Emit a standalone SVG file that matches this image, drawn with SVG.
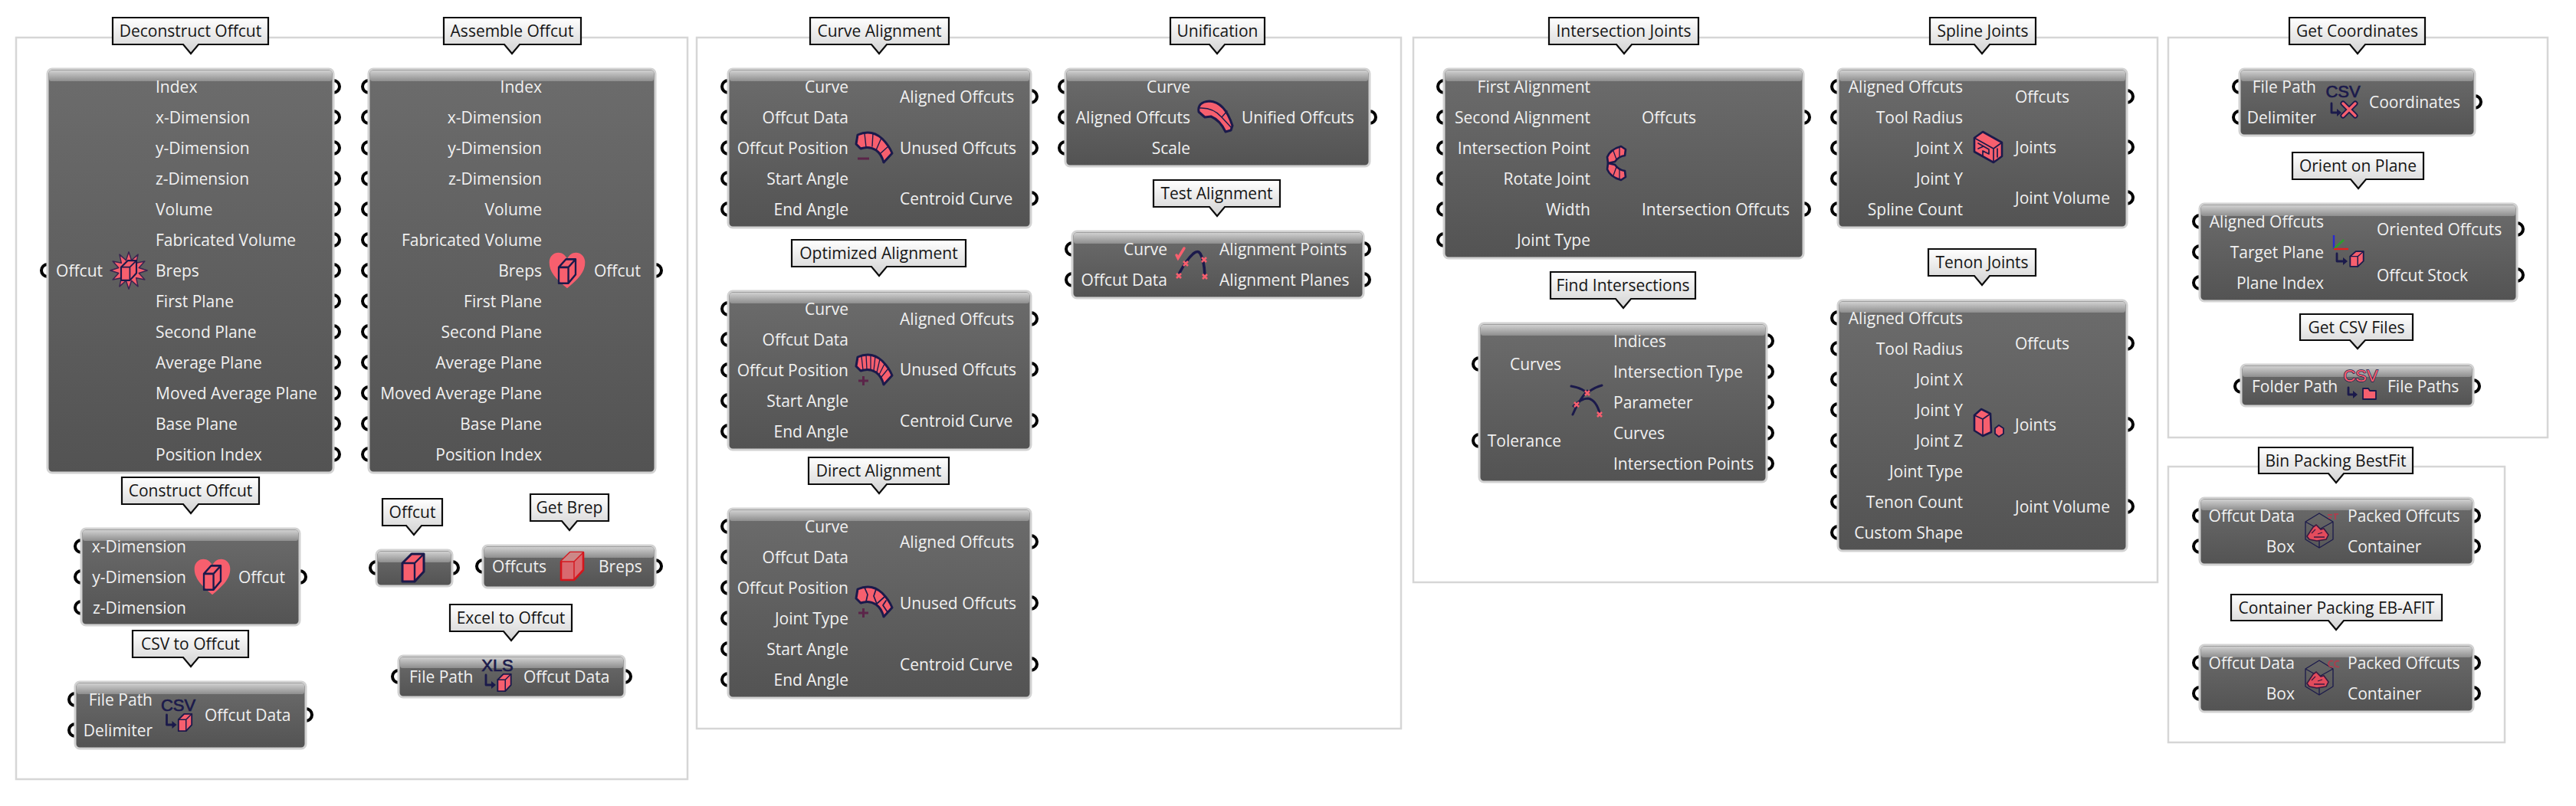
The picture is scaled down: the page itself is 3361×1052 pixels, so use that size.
<svg xmlns="http://www.w3.org/2000/svg" width="3361" height="1052" viewBox="0 0 3361 1052">
<style>
text{font-family:"Open Sans","Noto Sans","Liberation Sans",sans-serif;dominant-baseline:central}
.f{fill:none;stroke:#d6d6d6;stroke-width:2.5}
.c{fill:url(#gl);stroke:#0c0c0c;stroke-width:2.2;stroke-linejoin:miter}
.lb{font-size:21px;fill:#151515;text-anchor:middle}
.b{fill:url(#gb);stroke:#d2d2d2;stroke-width:3}
.h{fill:url(#gh)}
.t{font-size:21px;fill:#f1f1f1}
.r{text-anchor:end}
.i{fill:#f75f6e;stroke:#1b1a4b;stroke-linejoin:round;stroke-linecap:round}
.l{fill:none;stroke:#1b1a4b;stroke-linejoin:round;stroke-linecap:round}
.m{fill:none;stroke:#5b2549;stroke-width:3}
.x{fill:none;stroke:#f75f6e;stroke-width:2.6}
.ic{font-size:22px;fill:#1b1a4b;stroke:#1b1a4b;stroke-width:.7;text-anchor:middle;font-family:"Liberation Sans",sans-serif;dominant-baseline:auto}
</style>
<defs>
<linearGradient id="gl" x1="0" y1="0" x2="0" y2="1"><stop offset="0" stop-color="#ffffff"/><stop offset="1" stop-color="#d2d2d2"/></linearGradient>
<linearGradient id="gb" x1="0" y1="0" x2="0" y2="1"><stop offset="0" stop-color="#6c6c6c"/><stop offset="1" stop-color="#535353"/></linearGradient>
<linearGradient id="gh" x1="0" y1="0" x2="0" y2="1"><stop offset="0" stop-color="#d0d0d0"/><stop offset="1" stop-color="#8e8e8e"/></linearGradient>
<circle id="p" r="8" fill="none" stroke="#000" stroke-width="4"/>
<g id="cube"><path class="i" stroke-width="3" d="M-14,-6 L-2,-18 H14 V5 L2,18 H-14 Z"/><path class="l" stroke-width="2.4" d="M-14,-6 H2 V18 M2,-6 L14,-18"/></g>
<g id="burst"><g transform="scale(1.05)"><path fill="#f75f6e" stroke="#3a2450" stroke-width="1.4" stroke-linejoin="round" d="M23,0 L12.6,3.4 19.9,11.5 9.2,9.2 11.5,19.9 3.4,12.6 0,23 -3.4,12.6 -11.5,19.9 -9.2,9.2 -19.9,11.5 -12.6,3.4 -23,0 -12.6,-3.4 -19.9,-11.5 -9.2,-9.2 -11.5,-19.9 -3.4,-12.6 0,-23 3.4,-12.6 11.5,-19.9 9.2,-9.2 19.9,-11.5 12.6,-3.4 Z"/><use href="#cube" transform="scale(.68)"/></g></g>
<g id="heart"><g transform="scale(1.06)"><path fill="#f75f6e" d="M0,22 C-14,10 -22,2 -22,-10 C-22,-18 -16,-22 -11,-22 C-6,-22 -2,-19 0,-14 C2,-19 6,-22 11,-22 C16,-22 22,-18 22,-10 C22,2 14,10 0,22Z"/><g transform="translate(0,1) scale(.74,.82)"><path class="l" stroke-width="3" d="M-14,-6 L-2,-18 H14 V5 L2,18 H-14 Z M-14,-6 H2 V18 M2,-6 L14,-18"/></g></g></g>
<g id="brep"><path fill="#d9696f" stroke="#d4161d" stroke-width="2.6" stroke-linejoin="round" d="M-14,-6 L-2,-18 H15 V5 L3,18 H-14 Z"/><path fill="#c88" d="M-14,-6 L-2,-18 H15 L3,-6 Z"/><path fill="none" stroke="#d4161d" stroke-width="1.4" d="M-14,-6 H3 V18 M3,-6 L15,-18"/></g>
<g id="band"><path class="i" stroke-width="3" d="M-21,-17 Q-3,-25 11,-12 Q20,-3 24,7 L13,19 Q10,8 3,3 Q-6,-3 -17,1 L-23,-5 Z"/></g>
<g id="band1"><use href="#band"/><path class="l" stroke-width="1.4" d="M-12,-19 L-10,-1 M-1,-19 L-2,-2 M10,-13 L3,3 M19,-2 L9,7"/><path class="m" d="M-21,14 H-6"/></g>
<g id="band2"><use href="#band"/><path class="l" stroke-width="1.3" d="M-16,-18 L-14,0 M-10,-20 L-9,-1 M-4,-20 L-4,-1 M2,-18 L0,1 M8,-14 L4,3 M14,-8 L7,6 M19,-2 L10,9"/><path class="m" d="M-20,14 H-7 M-13.500,8 V20"/></g>
<g id="band3"><use href="#band"/><path class="l" stroke-width="1.7" d="M-12,-19 L-8,-10 L-10,-1 M3,-17 L0,-8 L4,2 L14,-7 M16,-2 L12,4 L18,13"/><path class="m" d="M-20,14 H-7 M-13.500,8 V20"/></g>
<g id="uni"><path class="i" stroke-width="3" d="M-22,-6 Q-24,-19 -8,-20 Q12,-19 22,12 L20,18 L13,20 Q6,5 -6,0 L-14,1 Z"/><path class="l" stroke-width="1.4" d="M-21,-11 Q-3,-12 8,1 L20,14 M8,1 L15,-7"/></g>
<g id="test"><path class="l" stroke-width="3.6" d="M-18,12 Q-9,-5 0,-13 Q6,-18 9,-13 Q14,-5 15,15"/><path class="x" d="M-22,13 L-16,19 M-16,13 L-22,19 M-13,-3 L-7,3 M-7,-3 L-13,3 M11,-8 L17,-2 M17,-8 L11,-2 M12,14 L18,20 M18,14 L12,20"/><path fill="none" stroke="#f75f6e" stroke-width="3.5" stroke-linecap="round" d="M-22,-11 L-20,-7 L-12,-20"/></g>
<g id="find"><path class="l" stroke-width="3" d="M-21,-20 Q-8,-18 0,-11 Q8,-18 19,-21 M0,-14 Q-12,0 -19,17 M-18,6 Q-8,-4 1,-4 Q12,-2 17,18"/><path class="x" d="M-3,-14 L3,-8 M3,-14 L-3,-8 M-17,1 L-11,7 M-11,1 L-17,7 M13,14 L19,20 M19,14 L13,20"/></g>
<g id="inter"><path class="i" stroke-width="2.6" d="M-11,0 L-12,-8 Q-8,-18 6,-22 L12,-18 L11,-10 Q3,-9 -2,-2 Z"/><path class="i" stroke-width="2.6" d="M-11,0 L-12,8 Q-8,18 6,22 L12,18 L11,10 Q3,9 -2,2 Z"/><path class="l" stroke-width="1.3" d="M-4,-16 L0,-5 M4,-20 L4,-9 M-4,16 L0,5 M4,20 L4,9"/></g>
<g id="spline"><path class="i" stroke-width="2.6" d="M-18,-12 L-7,-20 L18,-6 L18,12 L7,20 L-18,6Z"/><path class="l" stroke-width="1.7" d="M-18,-12 L7,2 L18,-6 M7,2 V20 M-13,-5 L1,3 V9 L-7,5 V11 M-13,2 L-6,-1 M12,2 V13"/></g>
<g id="tenon"><path class="i" stroke-width="2.6" d="M-18,-10 L-9,-18 L3,-12 L4,12 L-7,17 L-18,10Z"/><path class="l" stroke-width="1.6" d="M-18,-10 L-7,-5 L3,-12 M-7,-5 V17"/><path class="i" stroke-width="1.8" d="M9,7 L14,3 L20,7 V14 L14,18 L9,14Z"/></g>
<g id="to"><path class="l" stroke-width="2.8" d="M-15,5 V18 H-7"/><path d="M-8,13 L-2,18 L-8,23Z" fill="#1b1a4b"/><use href="#cube" transform="translate(9,15) scale(.62)"/></g>
<g id="pack"><path class="l" stroke-width="1.3" d="M-19,-11 L-1,-22 L17,-11 V12 L-1,23 L-19,12 Z M-19,-11 L-1,-1 L17,-11 M-1,-1 V23"/><path fill="#e34b5c" stroke="#3a1a40" stroke-width="1.6" d="M-17,8 L-9,-4 L-5,-7 L1,-1 L5,-2 L11,6 L8,12 L-4,14 L-14,12 Z"/><path fill="none" stroke="#3a1a40" stroke-width="1.3" d="M-11,4 L-6,-1 M-3,5 L3,3 M-8,9 H6"/></g>
</defs>

<g id="frames">
<rect class="f" x="21" y="49" width="876" height="968"/>
<rect class="f" x="909" y="49" width="919" height="902"/>
<rect class="f" x="1844" y="49" width="971" height="711"/>
<rect class="f" x="2829" y="49" width="495" height="522"/>
<rect class="f" x="2829" y="609" width="439" height="360"/>
</g>
<g id="connectors"/>

<g id="deconstruct-offcut">
<path class="c" d="M147,23 H350 V58 H259 L249,70 L239,58 H147 Z"/><text class="lb" x="248.500" y="40">Deconstruct Offcut</text>
<use href="#p" x="62" y="353"/><use href="#p" x="435" y="113"/><use href="#p" x="435" y="153"/><use href="#p" x="435" y="193"/><use href="#p" x="435" y="233"/><use href="#p" x="435" y="273"/><use href="#p" x="435" y="313"/><use href="#p" x="435" y="353"/><use href="#p" x="435" y="393"/><use href="#p" x="435" y="433"/><use href="#p" x="435" y="473"/><use href="#p" x="435" y="513"/><use href="#p" x="435" y="553"/><use href="#p" x="435" y="593"/>
<rect class="b" x="62" y="90" width="373" height="527" rx="6"/><rect class="h" x="64" y="92" width="369" height="14" rx="3"/>
<text class="t r" x="134" y="353">Offcut</text>
<text class="t" x="203" y="113">Index</text><text class="t" x="203" y="153">x-Dimension</text><text class="t" x="203" y="193">y-Dimension</text><text class="t" x="203" y="233">z-Dimension</text><text class="t" x="203" y="273">Volume</text><text class="t" x="203" y="313">Fabricated Volume</text><text class="t" x="203" y="353">Breps</text><text class="t" x="203" y="393">First Plane</text><text class="t" x="203" y="433">Second Plane</text><text class="t" x="203" y="473">Average Plane</text><text class="t" x="203" y="513">Moved Average Plane</text><text class="t" x="203" y="553">Base Plane</text><text class="t" x="203" y="593">Position Index</text>
<use href="#burst" x="168" y="353"/>
</g>

<g id="assemble-offcut">
<path class="c" d="M579,23 H758 V58 H678 L668,70 L658,58 H579 Z"/><text class="lb" x="668" y="40">Assemble Offcut</text>
<use href="#p" x="481" y="113"/><use href="#p" x="481" y="153"/><use href="#p" x="481" y="193"/><use href="#p" x="481" y="233"/><use href="#p" x="481" y="273"/><use href="#p" x="481" y="313"/><use href="#p" x="481" y="353"/><use href="#p" x="481" y="393"/><use href="#p" x="481" y="433"/><use href="#p" x="481" y="473"/><use href="#p" x="481" y="513"/><use href="#p" x="481" y="553"/><use href="#p" x="481" y="593"/><use href="#p" x="855" y="353"/>
<rect class="b" x="481" y="90" width="374" height="527" rx="6"/><rect class="h" x="483" y="92" width="370" height="14" rx="3"/>
<text class="t r" x="707" y="113">Index</text><text class="t r" x="707" y="153">x-Dimension</text><text class="t r" x="707" y="193">y-Dimension</text><text class="t r" x="707" y="233">z-Dimension</text><text class="t r" x="707" y="273">Volume</text><text class="t r" x="707" y="313">Fabricated Volume</text><text class="t r" x="707" y="353">Breps</text><text class="t r" x="707" y="393">First Plane</text><text class="t r" x="707" y="433">Second Plane</text><text class="t r" x="707" y="473">Average Plane</text><text class="t r" x="707" y="513">Moved Average Plane</text><text class="t r" x="707" y="553">Base Plane</text><text class="t r" x="707" y="593">Position Index</text>
<text class="t" x="775" y="353">Offcut</text>
<use href="#heart" x="740" y="353"/>
</g>

<g id="construct-offcut">
<path class="c" d="M159,623 H338 V658 H259 L249,670 L239,658 H159 Z"/><text class="lb" x="248.500" y="640">Construct Offcut</text>
<use href="#p" x="106" y="713"/><use href="#p" x="106" y="753"/><use href="#p" x="106" y="793"/><use href="#p" x="391" y="753"/>
<rect class="b" x="106" y="690" width="285" height="126" rx="6"/><rect class="h" x="108" y="692" width="281" height="14" rx="3"/>
<text class="t r" x="243" y="713">x-Dimension</text><text class="t r" x="243" y="753">y-Dimension</text><text class="t r" x="243" y="793">z-Dimension</text><text class="t" x="311" y="753">Offcut</text>
<use href="#heart" x="277" y="753"/>
</g>

<g id="csv-to-offcut">
<path class="c" d="M173,823 H324 V858 H259 L249,870 L239,858 H173 Z"/><text class="lb" x="248.500" y="840">CSV to Offcut</text>
<use href="#p" x="98" y="913"/><use href="#p" x="98" y="953"/><use href="#p" x="399" y="933"/>
<rect class="b" x="98" y="890" width="301" height="87" rx="6"/><rect class="h" x="100" y="892" width="297" height="14" rx="3"/>
<text class="t r" x="199" y="913">File Path</text><text class="t r" x="199" y="953">Delimiter</text><text class="t" x="267" y="933">Offcut Data</text>
<g transform="translate(232.500,928)"><text class="ic" x="0" y="0">CSV</text><use href="#to"/></g>
</g>

<g id="offcut">
<path class="c" d="M499,651 H577 V686 H550 L540,698 L530,686 H499 Z"/><text class="lb" x="538" y="668">Offcut</text>
<use href="#p" x="491" y="741"/><use href="#p" x="590" y="741"/>
<rect class="b" x="491" y="718" width="99" height="47" rx="6"/><rect class="h" x="493" y="720" width="95" height="14" rx="3"/>
<use href="#cube" x="539" y="741"/>
</g>

<g id="get-brep">
<path class="c" d="M692,645 H794 V680 H753 L743,692 L733,680 H692 Z"/><text class="lb" x="743" y="662">Get Brep</text>
<use href="#p" x="630" y="739"/><use href="#p" x="855" y="739"/>
<rect class="b" x="630" y="712" width="225" height="55" rx="6"/><rect class="h" x="632" y="714" width="221" height="14" rx="3"/>
<text class="t r" x="713" y="739">Offcuts</text><text class="t" x="781" y="739">Breps</text>
<use href="#brep" x="746" y="739"/>
</g>

<g id="excel-to-offcut">
<path class="c" d="M587,789 H746 V824 H677 L667,836 L657,824 H587 Z"/><text class="lb" x="666.500" y="806">Excel to Offcut</text>
<use href="#p" x="520" y="883"/><use href="#p" x="815" y="883"/>
<rect class="b" x="520" y="856" width="295" height="54" rx="6"/><rect class="h" x="522" y="858" width="291" height="14" rx="3"/>
<text class="t" x="534" y="883">File Path</text><text class="t" x="683" y="883">Offcut Data</text>
<g transform="translate(649,876)"><text class="ic" x="0" y="0">XLS</text><use href="#to"/></g>
</g>

<g id="curve-alignment">
<path class="c" d="M1057,23 H1238 V58 H1157 L1147,70 L1137,58 H1057 Z"/><text class="lb" x="1147.500" y="40">Curve Alignment</text>
<use href="#p" x="950" y="113"/><use href="#p" x="950" y="153"/><use href="#p" x="950" y="193"/><use href="#p" x="950" y="233"/><use href="#p" x="950" y="273"/><use href="#p" x="1345" y="126"/><use href="#p" x="1345" y="193"/><use href="#p" x="1345" y="259"/>
<rect class="b" x="950" y="90" width="395" height="207" rx="6"/><rect class="h" x="952" y="92" width="391" height="14" rx="3"/>
<text class="t r" x="1107" y="113">Curve</text><text class="t r" x="1107" y="153">Offcut Data</text><text class="t r" x="1107" y="193">Offcut Position</text><text class="t r" x="1107" y="233">Start Angle</text><text class="t r" x="1107" y="273">End Angle</text>
<text class="t" x="1174" y="126">Aligned Offcuts</text><text class="t" x="1174" y="193">Unused Offcuts</text><text class="t" x="1174" y="259">Centroid Curve</text>
<use href="#band1" x="1140" y="193"/>
</g>

<g id="optimized-alignment">
<path class="c" d="M1033,313 H1260 V348 H1157 L1147,360 L1137,348 H1033 Z"/><text class="lb" x="1146.500" y="330">Optimized Alignment</text>
<use href="#p" x="950" y="403"/><use href="#p" x="950" y="443"/><use href="#p" x="950" y="483"/><use href="#p" x="950" y="523"/><use href="#p" x="950" y="563"/><use href="#p" x="1345" y="416"/><use href="#p" x="1345" y="482"/><use href="#p" x="1345" y="549"/>
<rect class="b" x="950" y="380" width="395" height="207" rx="6"/><rect class="h" x="952" y="382" width="391" height="14" rx="3"/>
<text class="t r" x="1107" y="403">Curve</text><text class="t r" x="1107" y="443">Offcut Data</text><text class="t r" x="1107" y="483">Offcut Position</text><text class="t r" x="1107" y="523">Start Angle</text><text class="t r" x="1107" y="563">End Angle</text>
<text class="t" x="1174" y="416">Aligned Offcuts</text><text class="t" x="1174" y="482">Unused Offcuts</text><text class="t" x="1174" y="549">Centroid Curve</text>
<use href="#band2" x="1140" y="483"/>
</g>

<g id="direct-alignment">
<path class="c" d="M1055,597 H1238 V632 H1157 L1147,644 L1137,632 H1055 Z"/><text class="lb" x="1146.500" y="614">Direct Alignment</text>
<use href="#p" x="950" y="687"/><use href="#p" x="950" y="727"/><use href="#p" x="950" y="767"/><use href="#p" x="950" y="807"/><use href="#p" x="950" y="847"/><use href="#p" x="950" y="887"/><use href="#p" x="1345" y="707"/><use href="#p" x="1345" y="787"/><use href="#p" x="1345" y="867"/>
<rect class="b" x="950" y="664" width="395" height="247" rx="6"/><rect class="h" x="952" y="666" width="391" height="14" rx="3"/>
<text class="t r" x="1107" y="687">Curve</text><text class="t r" x="1107" y="727">Offcut Data</text><text class="t r" x="1107" y="767">Offcut Position</text><text class="t r" x="1107" y="807">Joint Type</text><text class="t r" x="1107" y="847">Start Angle</text><text class="t r" x="1107" y="887">End Angle</text>
<text class="t" x="1174" y="707">Aligned Offcuts</text><text class="t" x="1174" y="787">Unused Offcuts</text><text class="t" x="1174" y="867">Centroid Curve</text>
<use href="#band3" x="1140" y="786"/>
</g>

<g id="unification">
<path class="c" d="M1527,23 H1650 V58 H1598 L1588,70 L1578,58 H1527 Z"/><text class="lb" x="1588.500" y="40">Unification</text>
<use href="#p" x="1390" y="113"/><use href="#p" x="1390" y="153"/><use href="#p" x="1390" y="193"/><use href="#p" x="1787" y="153"/>
<rect class="b" x="1390" y="90" width="397" height="127" rx="6"/><rect class="h" x="1392" y="92" width="393" height="14" rx="3"/>
<text class="t r" x="1553" y="113">Curve</text><text class="t r" x="1553" y="153">Aligned Offcuts</text><text class="t r" x="1553" y="193">Scale</text><text class="t" x="1620" y="153">Unified Offcuts</text>
<use href="#uni" x="1586" y="152"/>
</g>

<g id="test-alignment">
<path class="c" d="M1505,235 H1670 V270 H1598 L1588,282 L1578,270 H1505 Z"/><text class="lb" x="1587.500" y="252">Test Alignment</text>
<use href="#p" x="1399" y="325"/><use href="#p" x="1399" y="365"/><use href="#p" x="1779" y="325"/><use href="#p" x="1779" y="365"/>
<rect class="b" x="1399" y="302" width="380" height="87" rx="6"/><rect class="h" x="1401" y="304" width="376" height="14" rx="3"/>
<text class="t r" x="1523" y="325">Curve</text><text class="t r" x="1523" y="365">Offcut Data</text><text class="t" x="1591" y="325">Alignment Points</text><text class="t" x="1591" y="365">Alignment Planes</text>
<use href="#test" x="1557" y="344"/>
</g>

<g id="intersection-joints">
<path class="c" d="M2021,23 H2216 V58 H2129 L2119,70 L2109,58 H2021 Z"/><text class="lb" x="2118.500" y="40">Intersection Joints</text>
<use href="#p" x="1884" y="113"/><use href="#p" x="1884" y="153"/><use href="#p" x="1884" y="193"/><use href="#p" x="1884" y="233"/><use href="#p" x="1884" y="273"/><use href="#p" x="1884" y="313"/><use href="#p" x="2353" y="153"/><use href="#p" x="2353" y="273"/>
<rect class="b" x="1884" y="90" width="469" height="247" rx="6"/><rect class="h" x="1886" y="92" width="465" height="14" rx="3"/>
<text class="t r" x="2075" y="113">First Alignment</text><text class="t r" x="2075" y="153">Second Alignment</text><text class="t r" x="2075" y="193">Intersection Point</text><text class="t r" x="2075" y="233">Rotate Joint</text><text class="t r" x="2075" y="273">Width</text><text class="t r" x="2075" y="313">Joint Type</text>
<text class="t" x="2142" y="153">Offcuts</text><text class="t" x="2142" y="273">Intersection Offcuts</text>
<use href="#inter" x="2109" y="213"/>
</g>

<g id="spline-joints">
<path class="c" d="M2518,23 H2656 V58 H2596 L2586,70 L2576,58 H2518 Z"/><text class="lb" x="2587" y="40">Spline Joints</text>
<use href="#p" x="2398" y="113"/><use href="#p" x="2398" y="153"/><use href="#p" x="2398" y="193"/><use href="#p" x="2398" y="233"/><use href="#p" x="2398" y="273"/><use href="#p" x="2775" y="126"/><use href="#p" x="2775" y="192"/><use href="#p" x="2775" y="258"/>
<rect class="b" x="2398" y="90" width="377" height="207" rx="6"/><rect class="h" x="2400" y="92" width="373" height="14" rx="3"/>
<text class="t r" x="2561" y="113">Aligned Offcuts</text><text class="t r" x="2561" y="153">Tool Radius</text><text class="t r" x="2561" y="193">Joint X</text><text class="t r" x="2561" y="233">Joint Y</text><text class="t r" x="2561" y="273">Spline Count</text>
<text class="t" x="2629" y="126">Offcuts</text><text class="t" x="2629" y="192">Joints</text><text class="t" x="2629" y="258">Joint Volume</text>
<use href="#spline" x="2594" y="192"/>
</g>

<g id="find-intersections">
<path class="c" d="M2023,355 H2212 V390 H2128 L2118,402 L2108,390 H2023 Z"/><text class="lb" x="2117.500" y="372">Find Intersections</text>
<use href="#p" x="1930" y="475"/><use href="#p" x="1930" y="575"/><use href="#p" x="2305" y="445"/><use href="#p" x="2305" y="485"/><use href="#p" x="2305" y="525"/><use href="#p" x="2305" y="565"/><use href="#p" x="2305" y="605"/>
<rect class="b" x="1930" y="422" width="375" height="207" rx="6"/><rect class="h" x="1932" y="424" width="371" height="14" rx="3"/>
<text class="t r" x="2037" y="475">Curves</text><text class="t r" x="2037" y="575">Tolerance</text>
<text class="t" x="2105" y="445">Indices</text><text class="t" x="2105" y="485">Intersection Type</text><text class="t" x="2105" y="525">Parameter</text><text class="t" x="2105" y="565">Curves</text><text class="t" x="2105" y="605">Intersection Points</text>
<use href="#find" x="2071" y="524"/>
</g>

<g id="tenon-joints">
<path class="c" d="M2516,325 H2656 V360 H2596 L2586,372 L2576,360 H2516 Z"/><text class="lb" x="2586" y="342">Tenon Joints</text>
<use href="#p" x="2398" y="415"/><use href="#p" x="2398" y="455"/><use href="#p" x="2398" y="495"/><use href="#p" x="2398" y="535"/><use href="#p" x="2398" y="575"/><use href="#p" x="2398" y="615"/><use href="#p" x="2398" y="655"/><use href="#p" x="2398" y="695"/><use href="#p" x="2775" y="448"/><use href="#p" x="2775" y="554"/><use href="#p" x="2775" y="661"/>
<rect class="b" x="2398" y="392" width="377" height="327" rx="6"/><rect class="h" x="2400" y="394" width="373" height="14" rx="3"/>
<text class="t r" x="2561" y="415">Aligned Offcuts</text><text class="t r" x="2561" y="455">Tool Radius</text><text class="t r" x="2561" y="495">Joint X</text><text class="t r" x="2561" y="535">Joint Y</text><text class="t r" x="2561" y="575">Joint Z</text><text class="t r" x="2561" y="615">Joint Type</text><text class="t r" x="2561" y="655">Tenon Count</text><text class="t r" x="2561" y="695">Custom Shape</text>
<text class="t" x="2629" y="448">Offcuts</text><text class="t" x="2629" y="554">Joints</text><text class="t" x="2629" y="661">Joint Volume</text>
<use href="#tenon" x="2594" y="552"/>
</g>

<g id="get-coordinates">
<path class="c" d="M2987,23 H3164 V58 H3086 L3076,70 L3066,58 H2987 Z"/><text class="lb" x="3075.500" y="40">Get Coordinates</text>
<use href="#p" x="2922" y="113"/><use href="#p" x="2922" y="153"/><use href="#p" x="3229" y="133"/>
<rect class="b" x="2922" y="90" width="307" height="87" rx="6"/><rect class="h" x="2924" y="92" width="303" height="14" rx="3"/>
<text class="t r" x="3022" y="113">File Path</text><text class="t r" x="3022" y="153">Delimiter</text><text class="t" x="3091" y="133">Coordinates</text>
<g id="ic-coordinates"><text class="ic" x="3057" y="127">CSV</text><path class="l" stroke-width="2.8" d="M3042,135 V147 H3050"/><path d="M3049,142 L3055,147 L3049,152Z" fill="#1b1a4b"/><path fill="none" stroke="#1b1a4b" stroke-width="7" stroke-linecap="round" d="M3057,135 L3073,151 M3073,135 L3057,151"/><path fill="none" stroke="#f75f6e" stroke-width="3.5" stroke-linecap="round" d="M3057,135 L3073,151 M3073,135 L3057,151"/></g>
</g>

<g id="orient-on-plane">
<path class="c" d="M2991,199 H3162 V234 H3087 L3077,246 L3067,234 H2991 Z"/><text class="lb" x="3076.500" y="216">Orient on Plane</text>
<use href="#p" x="2870" y="289"/><use href="#p" x="2870" y="329"/><use href="#p" x="2870" y="369"/><use href="#p" x="3284" y="299"/><use href="#p" x="3284" y="359"/>
<rect class="b" x="2870" y="266" width="414" height="127" rx="6"/><rect class="h" x="2872" y="268" width="410" height="14" rx="3"/>
<text class="t r" x="3032" y="289">Aligned Offcuts</text><text class="t r" x="3032" y="329">Target Plane</text><text class="t r" x="3032" y="369">Plane Index</text><text class="t" x="3101" y="299">Oriented Offcuts</text><text class="t" x="3101" y="359">Offcut Stock</text>
<g id="ic-orient"><path fill="none" stroke="#2a2ad0" stroke-width="2.4" d="M3045,325 V307"/><path fill="none" stroke="#2aa02a" stroke-width="2.4" d="M3045,325 L3058,313"/><path fill="none" stroke="#e02020" stroke-width="2.4" d="M3045,325 H3064"/><path class="l" stroke-width="2.8" d="M3049,331 V341 H3058"/><path d="M3057,336 L3063,341 L3057,346Z" fill="#1b1a4b"/><use href="#cube" transform="translate(3075,338) scale(.62,.55)"/></g>
</g>

<g id="get-csv-files">
<path class="c" d="M3001,410 H3148 V444 H3086 L3076,455 L3066,444 H3001 Z"/><text class="lb" x="3074.500" y="427">Get CSV Files</text>
<use href="#p" x="2924" y="504"/><use href="#p" x="3227" y="504"/>
<rect class="b" x="2924" y="476" width="303" height="54" rx="6"/><rect class="h" x="2926" y="478" width="299" height="14" rx="3"/>
<text class="t" x="2938" y="504">Folder Path</text><text class="t" x="3115" y="504">File Paths</text>
<g id="ic-csv-files"><text class="ic" x="3080" y="498" style="fill:#f75f6e;stroke:#1b1a4b;stroke-width:1.4;paint-order:stroke">CSV</text><path class="l" stroke-width="2.8" d="M3064,506 V515 H3071"/><path d="M3070,510 L3076,515 L3070,520Z" fill="#1b1a4b"/><path class="i" stroke-width="1.8" d="M3083,507 H3090 L3092,510 H3100 V521 H3083Z"/></g>
</g>

<g id="bin-packing-bestfit">
<path class="c" d="M2947,584 H3148 V618 H3058 L3048,630 L3038,618 H2947 Z"/><text class="lb" x="3047.500" y="601">Bin Packing BestFit</text>
<use href="#p" x="2870" y="673"/><use href="#p" x="2870" y="713"/><use href="#p" x="3227" y="673"/><use href="#p" x="3227" y="713"/>
<rect class="b" x="2870" y="650" width="357" height="87" rx="6"/><rect class="h" x="2872" y="652" width="353" height="14" rx="3"/>
<text class="t r" x="2994" y="673">Offcut Data</text><text class="t r" x="2994" y="713">Box</text><text class="t" x="3063" y="673">Packed Offcuts</text><text class="t" x="3063" y="713">Container</text>
<use href="#pack" x="3027" y="692"/><path fill="none" stroke="#a8404f" stroke-width="2" d="M3037,672 H3043 M3038,676 H3042 M3045,671 H3051 M3047,671 V678"/>
</g>

<g id="container-packing-eb-afit">
<path class="c" d="M2911,776 H3186 V810 H3058 L3048,822 L3038,810 H2911 Z"/><text class="lb" x="3048.500" y="793">Container Packing EB-AFIT</text>
<use href="#p" x="2870" y="865"/><use href="#p" x="2870" y="905"/><use href="#p" x="3227" y="865"/><use href="#p" x="3227" y="905"/>
<rect class="b" x="2870" y="842" width="357" height="87" rx="6"/><rect class="h" x="2872" y="844" width="353" height="14" rx="3"/>
<text class="t r" x="2994" y="865">Offcut Data</text><text class="t r" x="2994" y="905">Box</text><text class="t" x="3063" y="865">Packed Offcuts</text><text class="t" x="3063" y="905">Container</text>
<use href="#pack" x="3027" y="884"/><path fill="none" stroke="#a8404f" stroke-width="2" d="M3044,863 A4,4 0 1 0 3044,870 M3052,863 A4,4 0 1 0 3052,870"/>
</g>
</svg>
